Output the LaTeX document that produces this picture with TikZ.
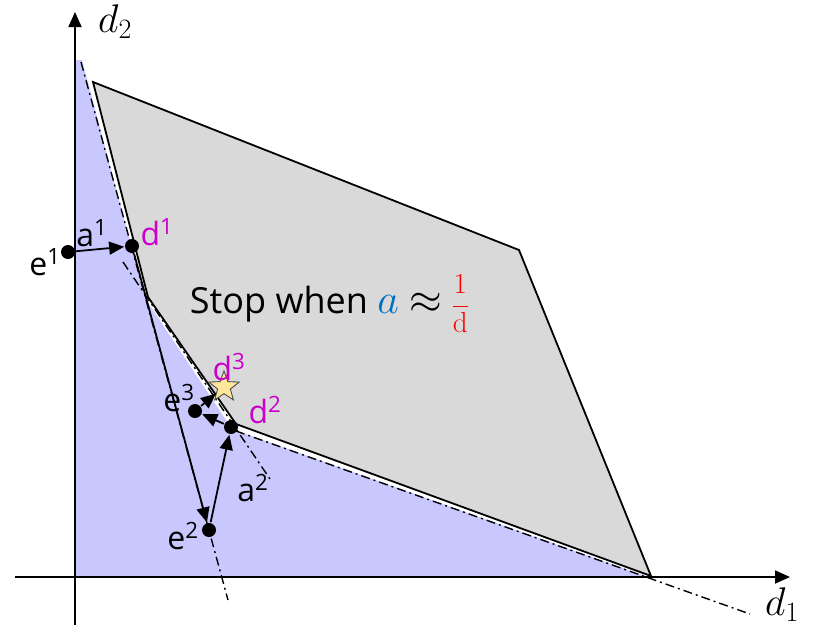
\RequirePackage{fix-cm}
\documentclass[tikz,border=0pt]{standalone}
\usepackage[no-math]{fontspec}
\setmainfont{Open Sans}
\usepackage{tikz}
\usetikzlibrary{arrows.meta, shapes.geometric}
\definecolor{feasblue}{RGB}{200,200,255}
\definecolor{polygray}{RGB}{217,217,217}
\definecolor{ptmag}{RGB}{204,0,204}
\definecolor{ablue}{RGB}{0,112,192}
\definecolor{starfill}{RGB}{255,230,153}
\tikzset{
  dot/.style={circle, fill=black, inner sep=0pt, minimum size=14pt},
  cut/.style={line width=1.4pt, dash pattern=on 9pt off 4pt on 2pt off 4pt},
  lbl/.style={font=\fontsize{32}{34}\selectfont, inner sep=0pt},
  dlbl/.style={lbl, text=ptmag},
  axlbl/.style={font=\fontsize{40}{42}\selectfont, inner sep=0pt}
}
\begin{document}
\begin{tikzpicture}[x=1pt, y=-1pt, >={Triangle[length=15pt,width=13pt]}, line width=1.8pt]
\useasboundingbox (0,0) rectangle (816,625);
% region below the lower hull
\fill[feasblue] (76,60) -- (82,60) -- (145,298) -- (232,429) -- (648,577) -- (76,577) -- cycle;
% polygon
\coordinate (p1) at (93,82);
\coordinate (p2) at (519,250);
\coordinate (p3) at (651,576);
\coordinate (p4) at (236,424);
\coordinate (p5) at (148,297);
\draw[fill=polygray] (p1) -- (p2) -- (p3) -- (p4) -- (p5) -- cycle;
% axes
\draw[->] (15,577) -- (790,577); \node[axlbl] at (782,605) {$d_1$};
\draw[->] (75,625) -- (75,12);  \node[axlbl] at (115,22) {$d_2$};
% supporting lines
\draw[cut] (81,62) -- (228,600);
\draw[cut] (123,262) -- (270,479);
\draw[cut] (236,431) -- (750,614);
% iterates
\node[dot] (e1) at (68,252) {};
\node[dot] (d1) at (132,246) {};
\node[dot] (e2) at (209,530) {};
\node[dot] (d2) at (231,427) {};
\node[dot] (e3) at (195,411) {};
\node[star, star points=5, star point ratio=2.4, minimum size=32pt, inner sep=0pt,
      fill=starfill, draw=black!70, line width=0.9pt] (d3) at (224,387) {};
\draw[->] (e1) -- (d1);
\draw[->] (d1) -- (e2);
\draw[->] (e2) -- (d2);
\draw[->] (d2) -- (e3);
\draw[->] (e3) -- (d3);
% labels
\node[lbl] at (45,262) {e\textsuperscript{1}};
\node[lbl] at (92,233) {a\textsuperscript{1}};
\node[dlbl] at (157,232) {d\textsuperscript{1}};
\node[lbl] at (183,536) {e\textsuperscript{2}};
\node[lbl] at (253,488) {a\textsuperscript{2}};
\node[dlbl] at (265,410) {d\textsuperscript{2}};
\node[lbl] at (179,398) {e\textsuperscript{3}};
\node[dlbl] at (229,367) {d\textsuperscript{3}};
% stopping rule
\node[font=\fontsize{36}{40}\selectfont, anchor=base west, inner sep=0pt] at (189,313)
  {Stop when {\fontsize{42}{44}\selectfont\textcolor{ablue}{$a$} $\approx$}
   \textcolor{red}{\fontsize{29}{31}\selectfont$\displaystyle\frac{\mathrm{1}}{\mathrm{d}}$}};
\end{tikzpicture}
\end{document}
